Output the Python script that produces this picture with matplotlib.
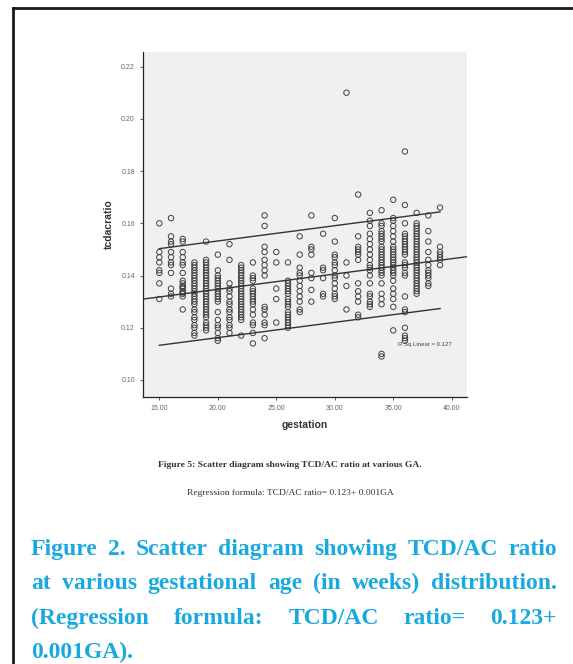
import numpy as np
import matplotlib
matplotlib.use("Agg")
import matplotlib.pyplot as plt
from matplotlib.lines import Line2D

# TCD/AC ratio, one list per gestational week
ratio_by_week = {
    15: [0.160, 0.149, 0.147, 0.145, 0.142, 0.141, 0.137, 0.131],
    16: [0.162, 0.155, 0.153, 0.152, 0.149, 0.147, 0.145, 0.144, 0.141, 0.135, 0.133, 0.132],
    17: [0.154, 0.153, 0.149, 0.147, 0.145, 0.144, 0.141, 0.138, 0.137, 0.136, 0.1355, 0.135,
         0.134, 0.1335, 0.133, 0.132, 0.127],
    18: [0.145, 0.144, 0.143, 0.142, 0.141, 0.140, 0.139, 0.138, 0.137, 0.136, 0.135, 0.134,
         0.133, 0.132, 0.131, 0.130, 0.129, 0.127, 0.126, 0.124, 0.123, 0.121, 0.120, 0.118, 0.117],
    19: [0.153, 0.146, 0.145, 0.144, 0.143, 0.142, 0.141, 0.140, 0.139, 0.138, 0.137, 0.136,
         0.135, 0.134, 0.133, 0.132, 0.131, 0.130, 0.129, 0.128, 0.127, 0.126, 0.125, 0.124,
         0.122, 0.121, 0.120, 0.119],
    20: [0.148, 0.142, 0.140, 0.139, 0.138, 0.137, 0.136, 0.135, 0.134, 0.133, 0.132, 0.131,
         0.130, 0.126, 0.123, 0.121, 0.120, 0.118, 0.116, 0.115],
    21: [0.152, 0.146, 0.137, 0.135, 0.134, 0.132, 0.130, 0.129, 0.127, 0.126, 0.124, 0.123,
         0.121, 0.120, 0.118],
    22: [0.144, 0.143, 0.142, 0.141, 0.140, 0.139, 0.138, 0.137, 0.136, 0.135, 0.134, 0.133,
         0.132, 0.131, 0.130, 0.129, 0.128, 0.127, 0.126, 0.125, 0.124, 0.123, 0.117],
    23: [0.145, 0.140, 0.139, 0.138, 0.135, 0.134, 0.133, 0.132, 0.131, 0.130, 0.129, 0.127,
         0.125, 0.122, 0.121, 0.118, 0.114],
    24: [0.163, 0.159, 0.151, 0.149, 0.146, 0.144, 0.142, 0.140, 0.128, 0.127, 0.125, 0.122,
         0.121, 0.116],
    25: [0.149, 0.145, 0.135, 0.131, 0.122],
    26: [0.145, 0.138, 0.137, 0.136, 0.135, 0.134, 0.133, 0.131, 0.130, 0.129, 0.128, 0.126,
         0.125, 0.124, 0.123, 0.122, 0.121, 0.120],
    27: [0.155, 0.148, 0.143, 0.141, 0.140, 0.138, 0.136, 0.134, 0.132, 0.130, 0.127, 0.126],
    28: [0.163, 0.151, 0.150, 0.148, 0.141, 0.139, 0.1345, 0.130],
    29: [0.156, 0.143, 0.142, 0.139, 0.133, 0.132],
    30: [0.162, 0.153, 0.148, 0.147, 0.145, 0.144, 0.142, 0.140, 0.139, 0.137, 0.135, 0.133,
         0.132, 0.131],
    31: [0.210, 0.145, 0.140, 0.136, 0.127],
    32: [0.171, 0.155, 0.151, 0.150, 0.149, 0.148, 0.146, 0.137, 0.134, 0.132, 0.130, 0.125, 0.124],
    33: [0.164, 0.161, 0.159, 0.156, 0.154, 0.152, 0.150, 0.148, 0.146, 0.144, 0.143, 0.142,
         0.140, 0.137, 0.133, 0.132, 0.130, 0.129, 0.128],
    34: [0.165, 0.160, 0.159, 0.157, 0.156, 0.155, 0.154, 0.153, 0.151, 0.150, 0.149, 0.148,
         0.147, 0.146, 0.145, 0.144, 0.143, 0.142, 0.141, 0.140, 0.137, 0.133, 0.131, 0.129,
         0.110, 0.109],
    35: [0.169, 0.162, 0.161, 0.159, 0.157, 0.155, 0.153, 0.151, 0.150, 0.149, 0.148, 0.147,
         0.146, 0.145, 0.144, 0.143, 0.142, 0.141, 0.140, 0.138, 0.135, 0.133, 0.131, 0.128, 0.119],
    36: [0.1875, 0.167, 0.160, 0.156, 0.155, 0.154, 0.153, 0.152, 0.151, 0.150, 0.149, 0.148,
         0.145, 0.144, 0.143, 0.141, 0.140, 0.132, 0.127, 0.126, 0.120, 0.117, 0.116, 0.115],
    37: [0.164, 0.160, 0.159, 0.158, 0.157, 0.156, 0.155, 0.154, 0.153, 0.152, 0.151, 0.150,
         0.149, 0.148, 0.147, 0.146, 0.145, 0.144, 0.143, 0.142, 0.141, 0.140, 0.139, 0.138,
         0.137, 0.136, 0.135, 0.134, 0.133],
    38: [0.163, 0.157, 0.153, 0.149, 0.146, 0.144, 0.142, 0.141, 0.140, 0.139, 0.137, 0.136],
    39: [0.166, 0.151, 0.149, 0.148, 0.147, 0.146, 0.144],
}

# fitted line and prediction band as drawn in the picture
fit_intercept = 0.123
fit_slope = 0.000586
band_half = 0.0185
band_range = [15, 39]
r_sq = 0.127

x_ticks = [15, 20, 25, 30, 35, 40]
y_ticks = [0.10, 0.12, 0.14, 0.16, 0.18, 0.20, 0.22]

caption_lines = [
    "Figure 2. Scatter diagram showing TCD/AC ratio",
    "at various gestational age (in weeks) distribution.",
    "(Regression formula: TCD/AC ratio= 0.123+",
    "0.001GA).",
]

W, H = 573, 664
fig = plt.figure(figsize=(W / 100, H / 100), dpi=100)
fig.patch.set_facecolor("white")

# frame around the figure (right/bottom edges fall outside the picture)
fig.add_artist(Line2D([12.5 / W, 12.5 / W], [0, 1 - 8 / H], color="#1a1a1a", lw=2.0,
                      transform=fig.transFigure))
fig.add_artist(Line2D([12.5 / W, 1], [1 - 8 / H, 1 - 8 / H], color="#1a1a1a", lw=2.0,
                      transform=fig.transFigure))

ax = fig.add_axes([143.3 / W, 1 - 396.7 / H, 323.4 / W, 345.0 / H])
ax.set_facecolor("#f0f0f0")

gx = []
gy = []
for week, vals in ratio_by_week.items():
    gx += [week] * len(vals)
    gy += vals
ax.scatter(gx, gy, s=15, facecolors="none", edgecolors="#404040", linewidths=0.7, zorder=3)

ax.set_xlim(13.63, 41.28)
ax.set_ylim(0.0936, 0.2257)

xx = np.array(ax.get_xlim())
ax.plot(xx, fit_intercept + fit_slope * xx, color="#333333", lw=1.0, zorder=4)
bx = np.array(band_range)
ax.plot(bx, fit_intercept + fit_slope * bx + band_half, color="#333333", lw=1.0, zorder=4)
ax.plot(bx, fit_intercept + fit_slope * bx - band_half, color="#333333", lw=1.0, zorder=4)

ax.text(35.4, 0.1134, f"R Sq Linear = {r_sq}", fontsize=4.3, color="#444444",
        va="center", ha="left", family="Liberation Sans", zorder=5)

for side in ["top", "right"]:
    ax.spines[side].set_visible(False)
for side in ["left", "bottom"]:
    ax.spines[side].set_color("#222222")
    ax.spines[side].set_linewidth(0.9)

ax.set_xticks(x_ticks)
ax.set_xticklabels([f"{t:.2f}" for t in x_ticks])
ax.set_yticks(y_ticks)
ax.set_yticklabels([f"{t:.2f}" for t in y_ticks])
ax.tick_params(axis="both", labelsize=5, labelcolor="#666666", color="#444444",
               length=2.5, width=0.6, pad=3.5)
for lab in ax.get_xticklabels() + ax.get_yticklabels():
    lab.set_family("Liberation Sans")

ax.set_xlabel("gestation", fontsize=7.5, fontweight="bold", family="Liberation Sans",
              color="#333333", labelpad=6)
ax.set_ylabel("tcdacratio", fontsize=7.5, fontweight="bold", family="Liberation Sans",
              color="#333333", labelpad=5)

fig.text(290 / W, 1 - 465 / H, "Figure 5: Scatter diagram showing TCD/AC ratio at various GA.",
         ha="center", va="center", fontsize=6.8, fontweight="bold", family="Liberation Serif",
         color="#333333")
fig.text(290 / W, 1 - 493 / H, "Regression formula: TCD/AC ratio= 0.123+ 0.001GA",
         ha="center", va="center", fontsize=6.8, family="Liberation Serif", color="#333333")

# justified blue caption
blue = "#19a9e1"
cap_kw = dict(fontsize=17, fontweight="bold", family="Liberation Serif", color=blue,
              va="baseline", ha="left")
renderer = fig.canvas.get_renderer()
x_left, x_right = 31, 557
baselines = [555, 589, 624, 658]
for i, (line, base) in enumerate(zip(caption_lines, baselines)):
    yf = 1 - base / H
    if i == len(caption_lines) - 1:
        fig.text(x_left / W, yf, line, **cap_kw)
        continue
    words = line.split()
    objs = [fig.text(0, yf, w, **cap_kw) for w in words]
    widths = [o.get_window_extent(renderer).width for o in objs]
    gap = ((x_right - x_left) - sum(widths)) / (len(words) - 1)
    xp = x_left
    for o, wd in zip(objs, widths):
        o.set_x(xp / W)
        xp += wd + gap

fig.savefig("out.png", dpi=100)
